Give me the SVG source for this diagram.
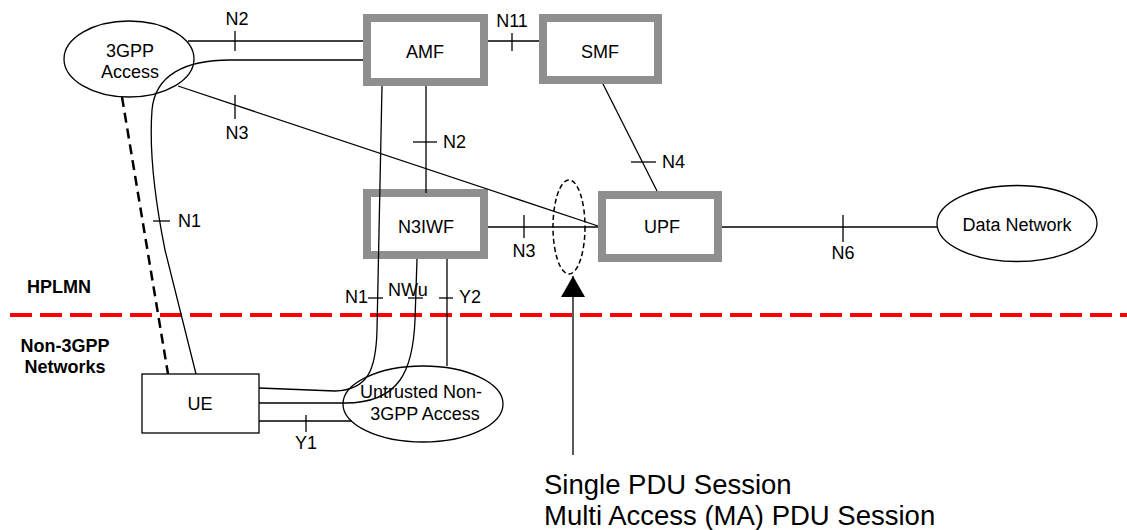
<svg xmlns="http://www.w3.org/2000/svg" width="1127" height="530" viewBox="0 0 1127 530">
<defs>
<style>
text{font-family:"Liberation Sans",Arial,sans-serif;font-size:18px;fill:#000}
.mid{text-anchor:middle}
.bold{font-weight:bold}
.nf{fill:#fff;stroke:#8f8f8f;stroke-width:8}
.ell{fill:#fff;stroke:#000;stroke-width:1.3}
.ln{fill:none;stroke:#000;stroke-width:1.3}
.dash{fill:none;stroke:#000;stroke-width:2.5;stroke-dasharray:10 6}
.big{font-size:27.5px}
</style>
<marker id="arr" markerWidth="22" markerHeight="24" refX="21" refY="12" orient="auto" markerUnits="userSpaceOnUse" viewBox="0 0 22 24">
<path d="M0 0 L21 12 L0 24 Z" fill="#000"/>
</marker>
</defs>
<rect width="1127" height="530" fill="#fff"/>
<g id="n-3gpp"><ellipse class="ell" cx="129" cy="59" rx="65" ry="38"/><text class="mid" x="130" y="57">3GPP</text><text class="mid" x="130" y="78">Access</text></g>
<g id="n-amf"><rect class="nf" x="367" y="18" width="117" height="64"/><text class="mid" x="425" y="58">AMF</text></g>
<g id="n-smf"><rect class="nf" x="543" y="18" width="115" height="62"/><text class="mid" x="600" y="58">SMF</text></g>
<g id="n-n3iwf"><rect class="nf" x="367" y="193" width="117" height="62"/><text class="mid" x="426" y="233">N3IWF</text></g>
<g id="n-upf"><rect class="nf" x="602" y="195" width="116" height="63"/><text class="mid" x="662" y="233">UPF</text></g>
<g id="n-dn"><ellipse class="ell" cx="1017" cy="223.5" rx="80" ry="38"/><text class="mid" x="1017" y="231">Data Network</text></g>
<g id="n-ue"><rect x="142" y="374" width="117" height="59" fill="#fff" stroke="#000" stroke-width="1.3"/><text class="mid" x="200" y="410">UE</text></g>
<g id="n-untrusted"><ellipse class="ell" cx="423" cy="404" rx="80" ry="38"/><text class="mid" x="421" y="398">Untrusted Non-</text><text class="mid" x="425" y="420">3GPP Access</text></g>
<g id="regions">
<line x1="10" y1="315" x2="1127" y2="315" stroke="#ff0000" stroke-width="4" stroke-dasharray="22 8"/>
<text class="bold" x="59" y="293" text-anchor="middle">HPLMN</text>
<text class="bold" x="65" y="352" text-anchor="middle">Non-3GPP</text>
<text class="bold" x="65" y="373" text-anchor="middle">Networks</text>
</g>
<g id="connectors">
<line class="ln" x1="188" y1="41" x2="363" y2="41"/>
<line class="ln" x1="235" y1="31" x2="235" y2="51"/>
<text class="mid" x="237" y="25">N2</text>
<path class="ln" d="M363 60 L230 60 C185 60 155 75 152 110 C149 150 155 200 165 250 L196 374"/>
<line class="ln" x1="153" y1="221" x2="170" y2="221"/>
<text x="178" y="227">N1</text>
<line class="dash" x1="122" y1="97" x2="168" y2="374"/>
<line class="ln" x1="178" y1="86" x2="598" y2="226"/>
<line class="ln" x1="235" y1="95" x2="235" y2="119"/>
<text class="mid" x="237" y="139">N3</text>
<line class="ln" x1="488" y1="41" x2="539" y2="41"/>
<line class="ln" x1="512" y1="33" x2="512" y2="51"/>
<text class="mid" x="512" y="27">N11</text>
<line class="ln" x1="603" y1="84" x2="657" y2="191"/>
<line class="ln" x1="631" y1="162" x2="656" y2="162"/>
<text x="662" y="168">N4</text>
<line class="ln" x1="426" y1="86" x2="426" y2="193"/>
<line class="ln" x1="413" y1="142" x2="437" y2="142"/>
<text x="443" y="148">N2</text>
<path class="ln" d="M382 86 L377 330 C376 370 368 390 335 391 L259 388"/>
<line class="ln" x1="368" y1="298" x2="383" y2="298"/>
<text x="345" y="303">N1</text>
<path class="ln" d="M417 259 L415 320 C413 370 400 403 345 403 L259 403"/>
<line class="ln" x1="408" y1="298" x2="423" y2="298"/>
<text x="388" y="296">NWu</text>
<line class="ln" x1="447" y1="259" x2="447" y2="366"/>
<line class="ln" x1="439" y1="298" x2="453" y2="298"/>
<text x="459" y="303">Y2</text>
<line class="ln" x1="259" y1="421" x2="352" y2="421"/>
<line class="ln" x1="306" y1="415" x2="306" y2="432"/>
<text class="mid" x="306" y="449">Y1</text>
<line class="ln" x1="488" y1="227" x2="598" y2="227"/>
<line class="ln" x1="524" y1="215" x2="524" y2="238"/>
<text class="mid" x="524" y="257">N3</text>
<line class="ln" x1="722" y1="227" x2="937" y2="227"/>
<line class="ln" x1="843" y1="215" x2="843" y2="242"/>
<text class="mid" x="843" y="259">N6</text>
<ellipse cx="569" cy="227" rx="16" ry="47" fill="none" stroke="#000" stroke-width="1.5" stroke-dasharray="5 3"/>
<line class="ln" x1="573" y1="455" x2="573" y2="276" marker-end="url(#arr)"/>
</g>
<g id="caption">
<text class="big" x="544" y="494">Single PDU Session</text>
<text class="big" x="544" y="525">Multi Access (MA) PDU Session</text>
</g>
</svg>
